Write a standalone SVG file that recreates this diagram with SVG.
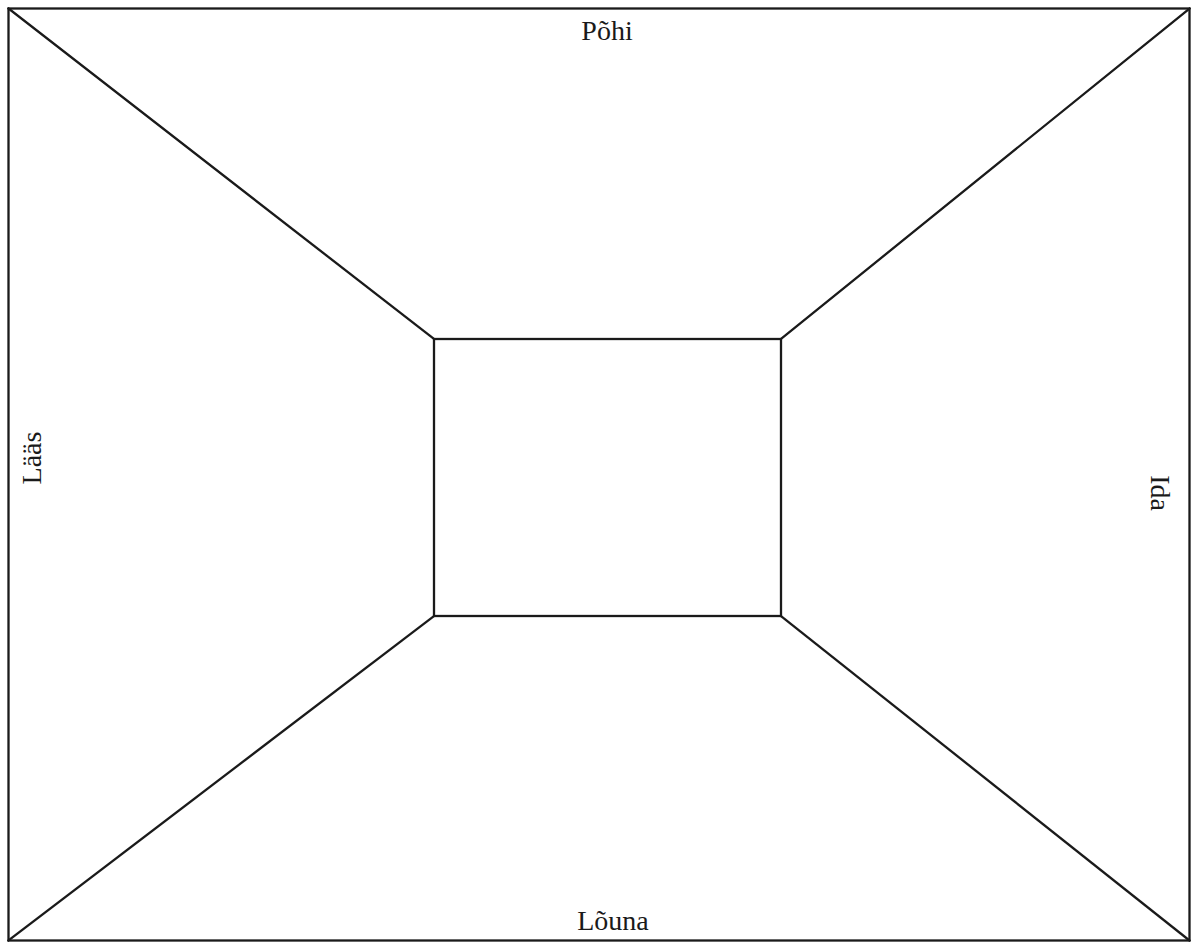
<svg xmlns="http://www.w3.org/2000/svg" width="1199" height="948" viewBox="0 0 1199 948">
<style>
.l{stroke:#1a1a1a;stroke-width:2.3;fill:none;stroke-linecap:square}
.t{font-family:"Liberation Serif","DejaVu Serif",serif;font-size:28px;fill:#1a1a1a}
</style>
<rect width="1199" height="948" fill="#fff"/>
<g id="connectors">
<rect class="l" x="8.5" y="8.5" width="1181" height="932"/>
<rect class="l" x="434" y="339" width="347" height="277"/>
<line class="l" x1="8.5" y1="8.5" x2="434" y2="339"/>
<line class="l" x1="1189.5" y1="8.5" x2="781" y2="339"/>
<line class="l" x1="8.5" y1="940.5" x2="434" y2="616"/>
<line class="l" x1="1189.5" y1="940.5" x2="781" y2="616"/>
</g>
<g id="north"><text class="t" x="607" y="40" text-anchor="middle">Põhi</text></g>
<g id="south"><text class="t" x="613" y="930" text-anchor="middle">Lõuna</text></g>
<g id="west"><text class="t" transform="translate(41,458) rotate(-90)" text-anchor="middle">Lääs</text></g>
<g id="east"><text class="t" transform="translate(1151,493) rotate(90)" text-anchor="middle">Ida</text></g>
</svg>
